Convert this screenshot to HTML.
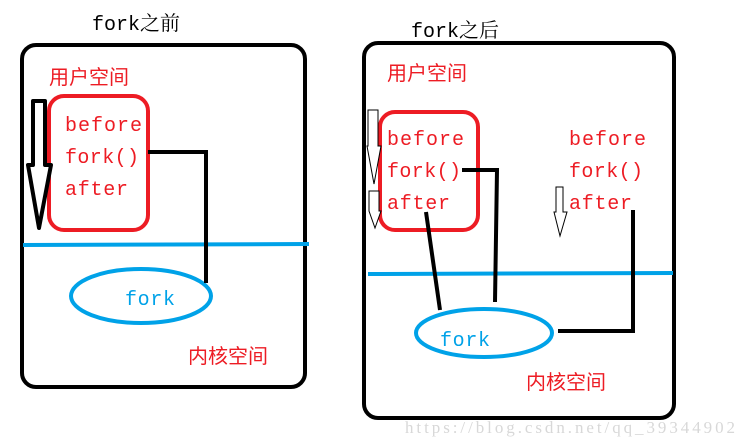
<!DOCTYPE html>
<html><head><meta charset="utf-8"><style>
html,body{margin:0;padding:0;background:#fff;}
svg{display:block}
.t{font-family:"Liberation Mono","Noto Serif CJK SC",monospace;font-size:20px;}
.c{font-family:"Liberation Sans","Noto Sans CJK SC",sans-serif;font-size:20px;fill:#ed1c24;}
</style></head><body>
<svg width="746" height="447" viewBox="0 0 746 447" xmlns="http://www.w3.org/2000/svg">
<!-- Left -->
<text x="92" y="30" class="t" fill="#000" font-size="20">fork之前</text>
<rect x="22" y="45" width="283" height="342" rx="14" fill="none" stroke="#000" stroke-width="4"/>
<text x="49" y="84" class="c">用户空间</text>
<rect x="49" y="96" width="99" height="134" rx="15" fill="none" stroke="#ed1c24" stroke-width="4"/>
<text x="65" y="131" class="t" fill="#ed1c24" textLength="77">before</text>
<text x="65" y="163" class="t" fill="#ed1c24" textLength="74">fork()</text>
<text x="65" y="195" class="t" fill="#ed1c24" textLength="63">after</text>
<polygon points="33,101 45,101 45,165 51,165 39,228 28,165 33,165" fill="#fff" stroke="#000" stroke-width="4" stroke-linejoin="round"/>
<line x1="23" y1="245" x2="309" y2="244" stroke="#00a2e8" stroke-width="4"/>
<ellipse cx="141" cy="296" rx="70" ry="27" fill="none" stroke="#00a2e8" stroke-width="4"/>
<text x="125" y="305" class="t" fill="#00a2e8" textLength="50">fork</text>
<polyline points="148,152 206,152 206,283" fill="none" stroke="#000" stroke-width="4"/>
<text x="188" y="363" class="c">内核空间</text>
<!-- Right -->
<text x="411" y="37" class="t" fill="#000">fork之后</text>
<rect x="364" y="43" width="310" height="375" rx="14" fill="none" stroke="#000" stroke-width="4"/>
<text x="387" y="80" class="c">用户空间</text>
<rect x="380" y="112" width="98" height="118" rx="15" fill="none" stroke="#ed1c24" stroke-width="4"/>
<text x="387" y="145" class="t" fill="#ed1c24" textLength="77">before</text>
<text x="387" y="177" class="t" fill="#ed1c24" textLength="74">fork()</text>
<text x="387" y="209" class="t" fill="#ed1c24" textLength="63">after</text>
<text x="569" y="145" class="t" fill="#ed1c24" textLength="77">before</text>
<text x="569" y="177" class="t" fill="#ed1c24" textLength="74">fork()</text>
<text x="569" y="209" class="t" fill="#ed1c24" textLength="63">after</text>
<polygon points="368,110 378,110 378,146 381,146 374,184 367,146 368,146" fill="#fff" stroke="#000" stroke-width="1"/>
<polygon points="369,191 379,191 379,211 381,211 375,228 369,211" fill="#fff" stroke="#000" stroke-width="1"/>
<polygon points="556,187 563,187 563,212 567,212 560,236 554,212 556,212" fill="#fff" stroke="#000" stroke-width="1"/>
<line x1="368" y1="274" x2="673" y2="273" stroke="#00a2e8" stroke-width="4"/>
<ellipse cx="484" cy="333" rx="68" ry="24" fill="none" stroke="#00a2e8" stroke-width="4"/>
<text x="440" y="346" class="t" fill="#00a2e8" textLength="50">fork</text>
<line x1="426" y1="212" x2="440" y2="310" stroke="#000" stroke-width="4"/>
<polyline points="462,170 497,170 495,302" fill="none" stroke="#000" stroke-width="4"/>
<polyline points="633,210 633,331 558,331" fill="none" stroke="#000" stroke-width="4"/>
<text x="526" y="389" class="c">内核空间</text>
<text x="405" y="433" font-family="Liberation Serif,serif" font-size="17" fill="#d8d8d8" textLength="330">https://blog.csdn.net/qq_39344902</text>
</svg>
</body></html>
